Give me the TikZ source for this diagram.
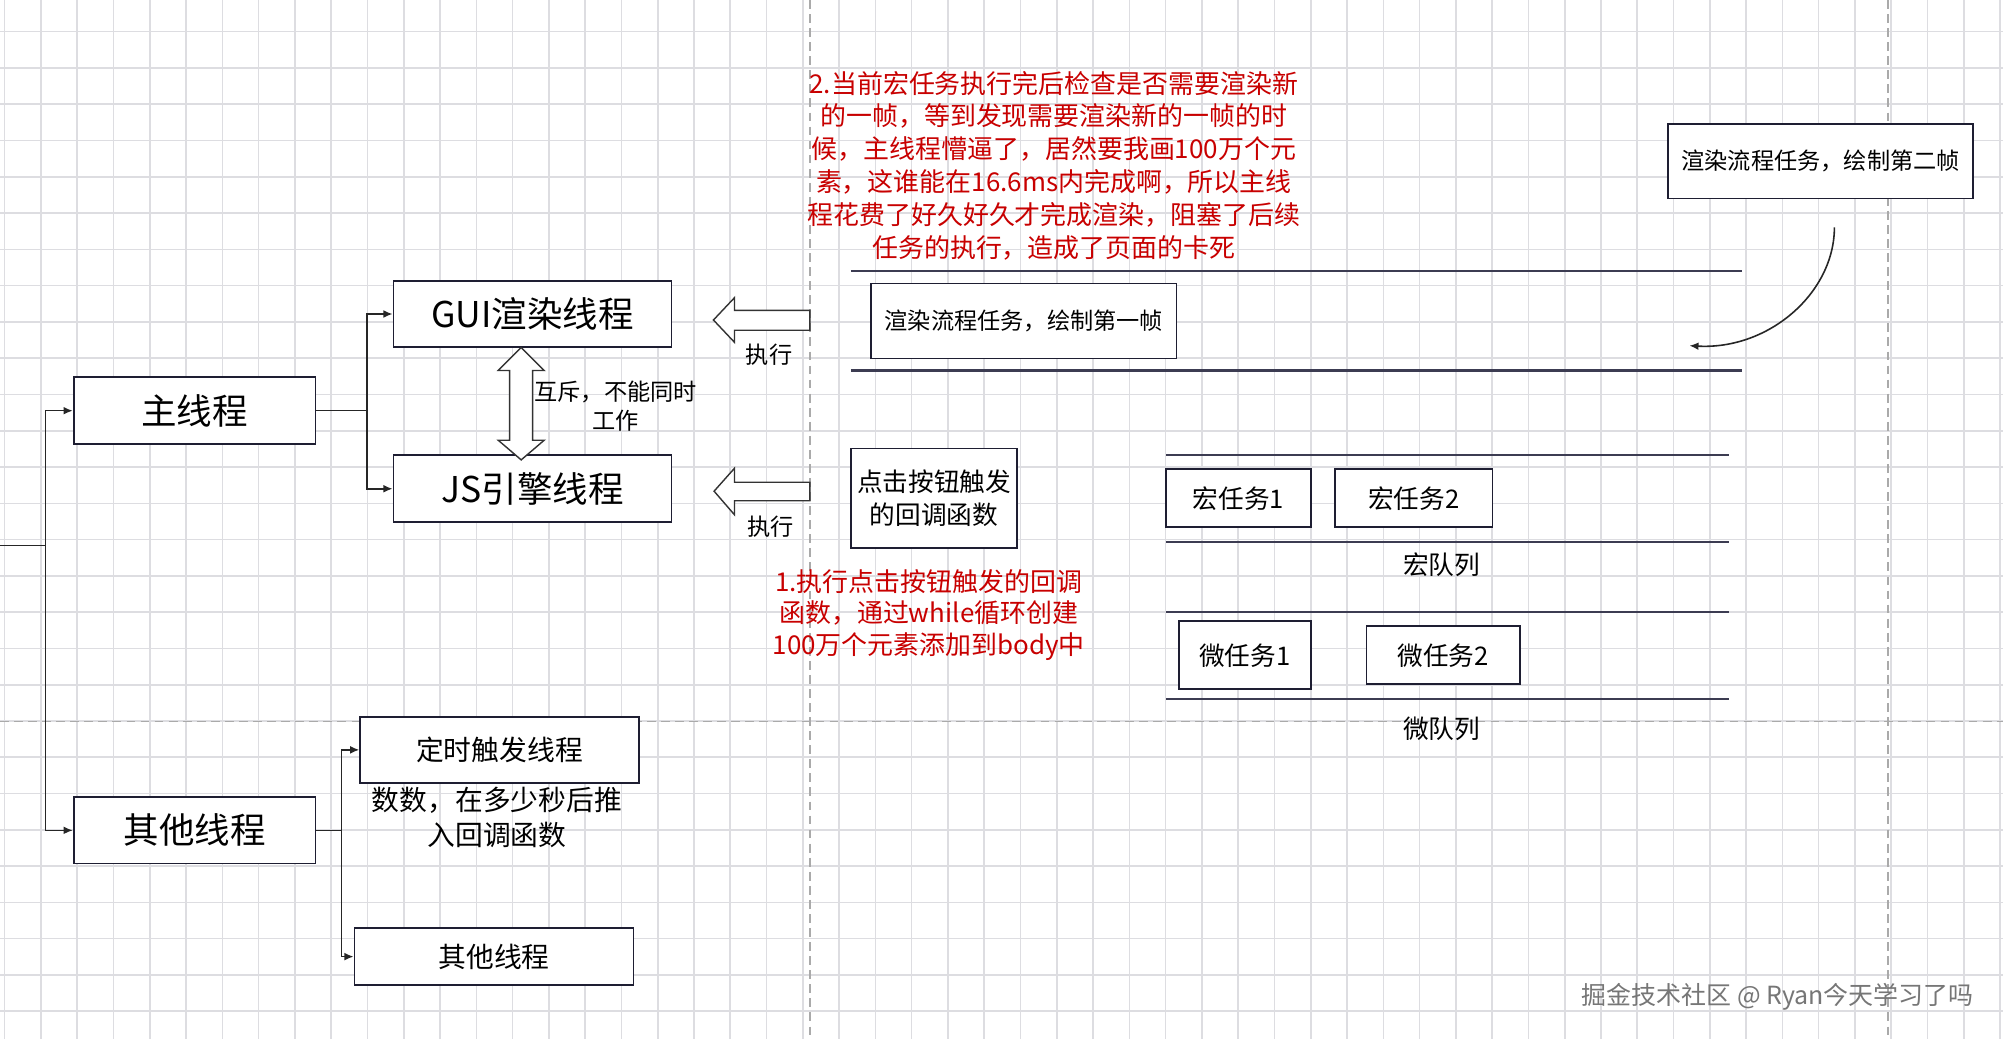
\documentclass[tikz,border=0pt]{standalone}
\usepackage{fontspec}
\setmainfont{Noto Sans CJK SC}
\usetikzlibrary{arrows.meta,calc}
\definecolor{gridc}{RGB}{221,221,225}
\definecolor{pagec}{RGB}{170,170,170}
\definecolor{boxc}{RGB}{30,30,50}
\definecolor{lanec}{RGB}{60,60,82}
\definecolor{redt}{RGB}{200,0,0}
\definecolor{wm}{RGB}{118,118,118}
\begin{document}
\begin{tikzpicture}[x=0.012774cm, y=-0.012774cm,
  sz/.style 2 args={minimum width=#1*0.012774cm, minimum height=#2*0.012774cm},
  box/.style={draw=boxc, line width=0.5pt, fill=white, inner sep=0pt, align=center},
  big/.style={font=\fontsize{10.1}{12}\selectfont},
  midf/.style={font=\fontsize{7.9}{10.07}\selectfont},
  fsix/.style={font=\fontsize{6.6}{8.36}\selectfont},
  fsev/.style={font=\fontsize{7.3}{9.2}\selectfont},
  redtxt/.style={text=redt, align=center, inner sep=0pt},
  conn/.style={draw=black!85, line width=0.45pt, -{Latex[length=2.6pt,width=2.2pt]}},
  plain/.style={draw=black!85, line width=0.45pt},
  hollow/.style={draw=black!80, line width=0.4pt, fill=white, line join=miter},
  lane/.style={draw=lanec, line width=0.6pt},
  pageline/.style={draw=pagec, line width=0.4pt, dash pattern=on 2.5pt off 1.5pt},
  gridline/.style={draw=gridc, line width=0.45pt}
]
\fill[white] (0,0) rectangle (1568,813.3);
\useasboundingbox (0,0) rectangle (1568,813.3);

% grid
\foreach \i in {0,...,55} {\draw[gridline] ({3.68+28.4*\i},0) -- ({3.68+28.4*\i},813.3);}
\foreach \j in {0,...,27} {\draw[gridline] (0,{24.8+28.4*\j}) -- (1568,{24.8+28.4*\j});}

% page break lines
\draw[pageline] (634,0) -- (634,813.3);
\draw[pageline] (1478,0) -- (1478,813.3);
\draw[pageline] (0,565) -- (1568,565);

% queue lanes
\draw[lane] (666,212) -- (1363.5,212);
\draw[lane] (666,290) -- (1363.5,290);
\draw[lane] (912.8,356) -- (1353.2,356);
\draw[lane, line width=0.5pt] (912.8,424.5) -- (1353.2,424.5);
\draw[lane, line width=0.5pt] (912.8,479) -- (1353.2,479);
\draw[lane, line width=0.5pt] (912.8,547) -- (1353.2,547);

% thread boxes
\node[box, big, sz={189.3}{52.2}] (main) at (152.35,321.5) {主线程};
\node[box, big, sz={217.6}{52.2}] (gui) at (416.8,245.8) {GUI渲染线程};
\node[box, big, sz={217.6}{52.5}] (js) at (416.8,382.6) {JS引擎线程};
\node[box, big, sz={189.3}{52}] (other) at (152.35,650) {其他线程};
\node[box, midf, sz={218}{52}] (timer) at (391,587) {定时触发线程};
\node[box, midf, sz={218.5}{44.3}] (oth2) at (386.75,748.85) {其他线程};

% task boxes
\node[box, fsix, sz={239}{58.7}] (r1) at (801.5,251.2) {渲染流程任务，绘制第一帧};
\node[box, fsix, sz={238.7}{58}] (r2) at (1425.35,126.3) {渲染流程任务，绘制第二帧};
\node[box, fsev, sz={130.4}{78}] (click) at (731.2,390) {点击按钮触发\\的回调函数};
\node[box, fsev, sz={113.9}{45.4}] (mac1) at (969.45,390.1) {宏任务1};
\node[box, fsev, sz={123.3}{45.4}] (mac2) at (1106.65,390.1) {宏任务2};
\node[box, fsev, sz={103.7}{53.2}] (mic1) at (974.55,513) {微任务1};
\node[box, fsev, sz={119.9}{45.4}] (mic2) at (1129.65,513) {微任务2};

% labels
\node[fsev] (macq) at (1128.5,442) {宏队列};
\node[fsev] (micq) at (1128.5,570.5) {微队列};
\node[fsix, align=center, inner sep=0pt] (mutex) at (482,318) {互斥，不能同时\\工作};
\node[fsix] (exec1) at (602,278) {执行};
\node[fsix] (exec2) at (603,412) {执行};
\node[midf, align=center, inner sep=0pt] (timerdesc) at (389,640) {数数，在多少秒后推\\入回调函数};

\node[redtxt, font=\fontsize{7.38}{9.38}\selectfont] (note2) at (825,129.8)
 {2.当前宏任务执行完后检查是否需要渲染新\\的一帧，等到发现需要渲染新的一帧的时\\候，主线程懵逼了，居然要我画100万个元\\素，这谁能在16.6ms内完成啊，所以主线\\程花费了好久好久才完成渲染，阻塞了后续\\任务的执行，造成了页面的卡死};
\node[redtxt, font=\fontsize{7.38}{9.0}\selectfont] (note1) at (727,481.4)
 {1.执行点击按钮触发的回调\\函数，通过while循环创建\\100万个元素添加到body中};

\node[text=wm, font=\fontsize{7.1}{8.5}\selectfont, inner sep=0pt] (wmark) at (1391.6,780) {掘金技术社区 @ Ryan今天学习了吗};

% connectors
\coordinate (root) at (0,427);
\coordinate (bus) at (35.6,427);
\draw[plain] (root) -- (bus);
\draw[conn] (bus) |- (main.west);
\draw[conn] (bus) |- (other.west);
\draw[conn] (main.east) -- ++(39.6,0) |- (gui.west);
\draw[conn] (main.east) -- ++(39.6,0) |- (js.west);
\draw[conn] (other.east) -- ++(19.7,0) |- (timer.west);
\draw[conn] (other.east) -- ++(19.7,0) |- (oth2.west);

\coordinate (cs) at (1436,178);
\coordinate (ce) at (1322.5,270.6);
\draw[conn] (cs) .. controls (1436,229) and (1385,274) .. (ce);

% hollow arrows
\draw[hollow] (558.5,250.5) -- (575,233) -- (575,243) -- (634,243) -- (634,258.5) -- (575,258.5) -- (575,268) -- cycle;
\draw[hollow] (559,384.5) -- (575,366.5) -- (575,377.5) -- (634,377.5) -- (634,392) -- (575,392) -- (575,403) -- cycle;
\draw[hollow] (408,272) -- (426,290) -- (417,290) -- (417,344.6) -- (426,344.6) -- (408,360) -- (390,344.6) -- (399,344.6) -- (399,290) -- (390,290) -- cycle;
\end{tikzpicture}
\end{document}
